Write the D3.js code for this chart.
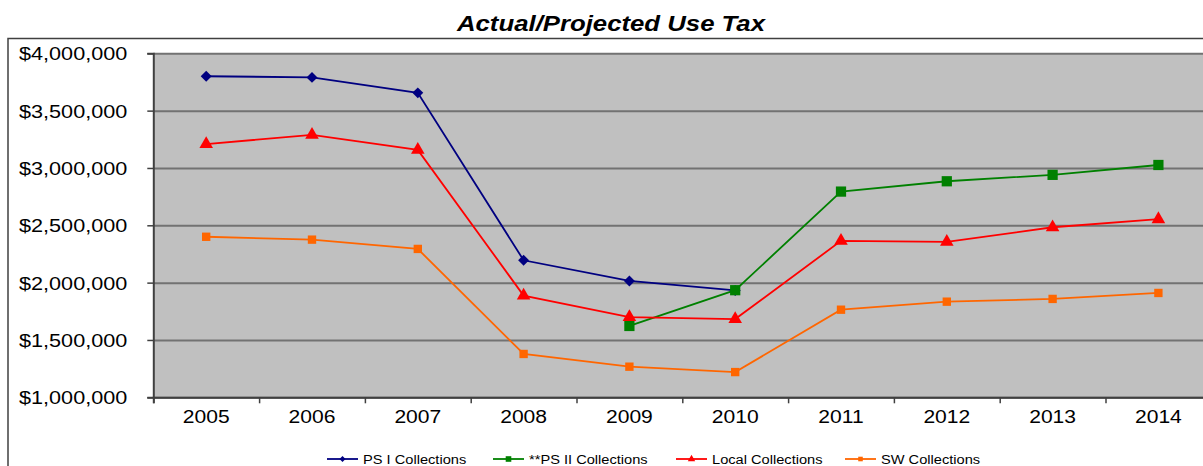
<!DOCTYPE html>
<html>
<head>
<meta charset="utf-8">
<script src="https://cdn.jsdelivr.net/npm/d3@7"></script>
<style>
  body { margin: 0; background: #fff; }
  text { font-family: "Liberation Sans", Arial, sans-serif; fill: #000; }
</style>
</head>
<body>
<div id="chart"></div>
<script>
// chart data
const years = ['2005', '2006', '2007', '2008', '2009', '2010', '2011', '2012', '2013', '2014'];
const ps1 = [3800000, 3790000, 3655000, 2195000, 2015000, 1932000, null, null, null, null];
const ps2 = [null, null, null, null, 1622000, 1934000, 2794000, 2884000, 2940000, 3026000];
const local = [3208000, 3289000, 3158000, 1887000, 1700000, 1682000, 2364000, 2355000, 2483000, 2553000];
const sw = [2400000, 2375000, 2294000, 1378000, 1267000, 1220000, 1764000, 1834000, 1858000, 1910000];
const yTicks = [1000000, 1500000, 2000000, 2500000, 3000000, 3500000, 4000000];
const seriesNames = ['PS I Collections', '**PS II Collections', 'Local Collections', 'SW Collections'];

const W = 1203, H = 466;
const stretch = 1.17; // text in the source picture is a bit wide
const margin = {top: 53.3, left: 153.3, bottom: 397.3};
const bandW = 105.8;

const svg = d3.select('#chart').append('svg')
    .attr('width', W).attr('height', H);

// outer frame (runs off the picture on the right / bottom)
svg.append('rect')
    .attr('x', 8).attr('y', 38.5)
    .attr('width', W).attr('height', H)
    .attr('fill', '#fff').attr('stroke', '#404040').attr('stroke-width', 1.5);

const x = d3.scaleBand()
    .domain(years)
    .range([margin.left, margin.left + bandW * years.length]);
const xIdx = d3.scaleLinear().domain([0, years.length]).range(x.range());
const y = d3.scaleLinear()
    .domain([1000000, 4000000])
    .range([margin.bottom, margin.top]);

const cx = d => x(d) + x.bandwidth() / 2;

// plot background
svg.append('rect')
    .attr('x', margin.left).attr('y', margin.top)
    .attr('width', x.range()[1] - margin.left)
    .attr('height', margin.bottom - margin.top)
    .attr('fill', '#c0c0c0');

// grid lines
svg.append('g')
    .attr('transform', 'translate(' + margin.left + ',0)')
    .call(d3.axisLeft(y).tickValues(yTicks).tickSize(-(x.range()[1] - margin.left)).tickFormat(''))
    .call(g => g.select('.domain').remove())
    .call(g => g.selectAll('line').attr('stroke', '#727272').attr('stroke-width', 2));

// y axis
const yAxis = svg.append('g')
    .attr('transform', 'translate(' + margin.left + ',0)')
    .call(d3.axisLeft(y).tickValues(yTicks).tickSize(6).tickPadding(20)
        .tickFormat(d => '$' + d3.format(',')(d)));
yAxis.select('.domain').attr('stroke', '#404040').attr('stroke-width', 2);
yAxis.selectAll('line').attr('stroke', '#404040').attr('stroke-width', 1.5);
yAxis.selectAll('text').attr('font-size', 18.5).attr('dy', '0.36em');

// x axis: tick marks between categories, labels centred
const xTickG = svg.append('g')
    .attr('transform', 'translate(0,' + margin.bottom + ')')
    .call(d3.axisBottom(xIdx).ticks(years.length).tickSize(6).tickFormat(''));
xTickG.select('.domain').attr('stroke', '#404040').attr('stroke-width', 2);
xTickG.selectAll('line').attr('stroke', '#404040').attr('stroke-width', 1.5);

const xLab = svg.append('g')
    .attr('transform', 'translate(0,' + margin.bottom + ')')
    .call(d3.axisBottom(x).tickSize(0).tickPadding(13));
xLab.select('.domain').remove();
xLab.selectAll('text').attr('font-size', 18);

svg.selectAll('.tick text').attr('fill', '#000').attr('font-family', '"Liberation Sans", Arial, sans-serif');

// square diamond (d3's own diamond is too tall)
const diamond = {
  draw(ctx, size) {
    const r = Math.sqrt(size / 2);
    ctx.moveTo(0, -r); ctx.lineTo(r, 0); ctx.lineTo(0, r); ctx.lineTo(-r, 0); ctx.closePath();
  }
};

// series
const series = [
  {name: seriesNames[0], values: ps1, color: '#000080', shape: diamond, size: 60},
  {name: seriesNames[1], values: ps2, color: '#008000', shape: d3.symbolSquare, size: 105},
  {name: seriesNames[2], values: local, color: '#ff0000', shape: d3.symbolTriangle, size: 80},
  {name: seriesNames[3], values: sw, color: '#ff6600', shape: d3.symbolSquare, size: 70}
];

const line = d3.line()
    .defined(d => d.v != null)
    .x(d => cx(d.year))
    .y(d => y(d.v));

series.forEach(s => {
  const pts = years.map((yr, i) => ({year: yr, v: s.values[i]}));
  const g = svg.append('g');
  g.append('path')
      .datum(pts)
      .attr('d', line)
      .attr('fill', 'none')
      .attr('stroke', s.color)
      .attr('stroke-width', 1.8);
  g.selectAll('path.m')
      .data(pts.filter(d => d.v != null))
      .join('path')
      .attr('class', 'm')
      .attr('transform', d => 'translate(' + cx(d.year) + ',' + y(d.v) + ')')
      .attr('d', d3.symbol().type(s.shape).size(s.size))
      .attr('fill', s.color);
});

// legend
const legendX = [327, 493, 676, 845];
const legY = 459;
const leg = svg.append('g');
series.forEach((s, i) => {
  const lg = leg.append('g').attr('transform', 'translate(' + legendX[i] + ',' + legY + ')');
  lg.append('line').attr('x1', 0).attr('x2', 31).attr('y1', 0).attr('y2', 0)
      .attr('stroke', s.color).attr('stroke-width', 1.8);
  lg.append('path').attr('transform', 'translate(15.5,0)')
      .attr('d', d3.symbol().type(s.shape).size(s.size * 0.3))
      .attr('fill', s.color);
  lg.append('text').attr('x', 36).attr('dy', '0.36em')
      .attr('font-size', 12.5).text(s.name);
});

// title
svg.append('text')
    .attr('x', 611).attr('y', 31)
    .attr('text-anchor', 'middle')
    .attr('font-size', 22).attr('font-weight', 'bold').attr('font-style', 'italic')
    .text('Actual/Projected Use Tax');

// widen all text to match the stretched source
svg.selectAll('text').each(function () {
  const len = this.getComputedTextLength();
  d3.select(this).attr('textLength', len * stretch).attr('lengthAdjust', 'spacingAndGlyphs');
});
</script>
</body>
</html>
